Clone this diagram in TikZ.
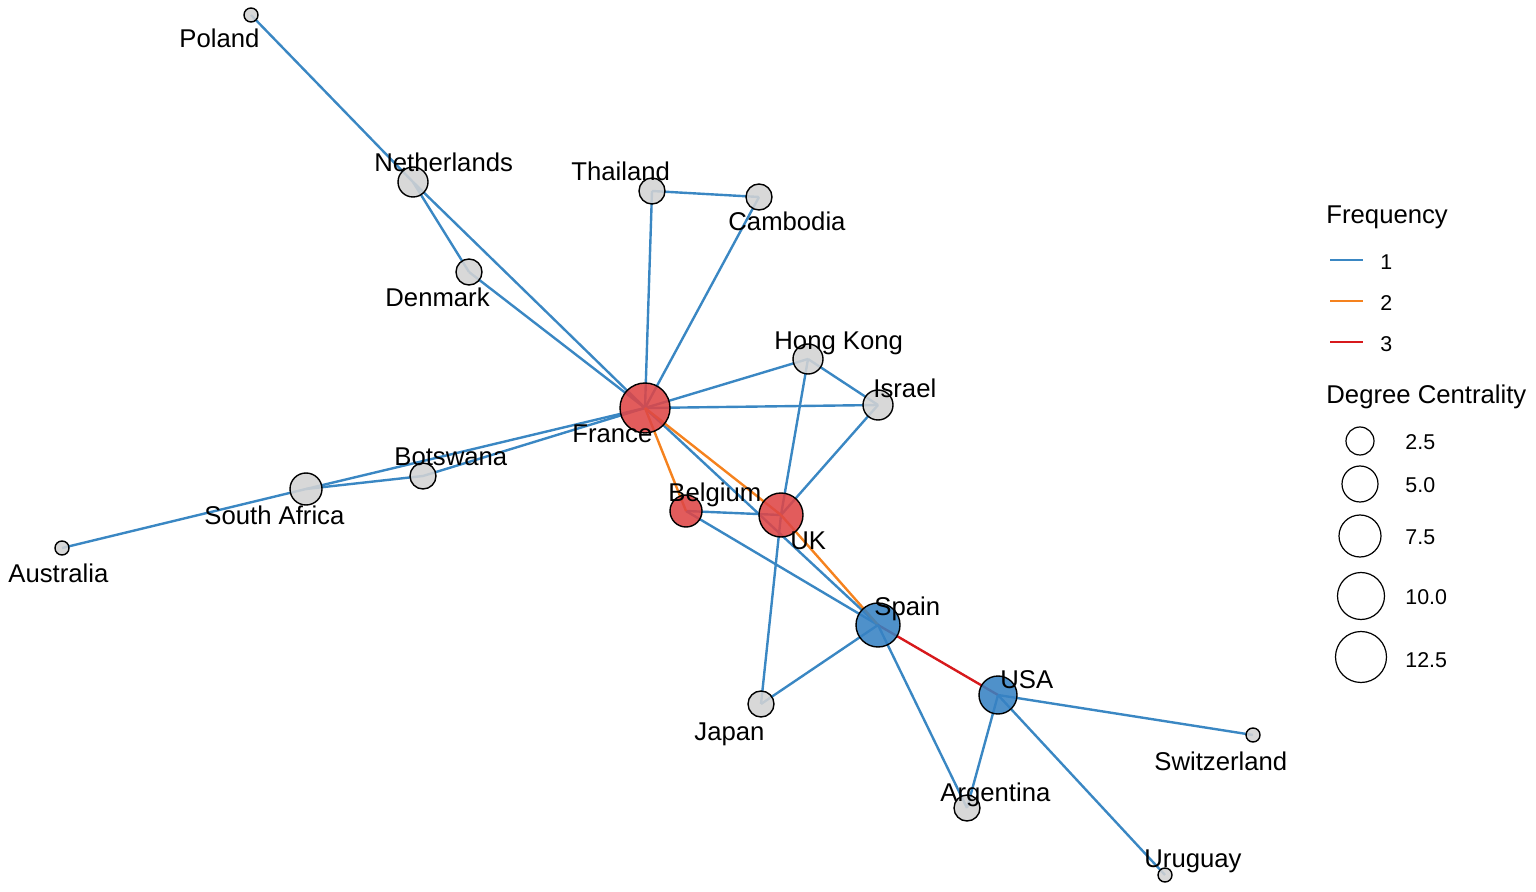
\documentclass[tikz,border=0pt]{standalone}
\usepackage{fontspec}
\setmainfont{Liberation Sans}
\usetikzlibrary{backgrounds}
\definecolor{eblue}{RGB}{58,135,195}
\definecolor{eorange}{RGB}{245,130,30}
\definecolor{ered}{RGB}{215,25,28}
\definecolor{ngrey}{RGB}{211,211,211}
\definecolor{nred}{RGB}{222,70,70}
\definecolor{nblue}{RGB}{55,130,195}
\tikzset{
  vtx/.style={circle,draw=black,line width=0.7pt,fill opacity=0.88,inner sep=0pt},
  vg/.style={vtx,fill=ngrey},
  vr/.style={vtx,fill=nred},
  vb/.style={vtx,fill=nblue},
  lbl/.style={anchor=base west,inner sep=0pt,font=\fontsize{12.85}{15}\selectfont},
  e1/.style={draw=eblue,line width=1.2pt},
  e2/.style={draw=eorange,line width=1.2pt},
  e3/.style={draw=ered,line width=1.2pt},
  legt/.style={anchor=base west,inner sep=0pt,font=\fontsize{12.85}{15}\selectfont},
  legn/.style={anchor=base west,inner sep=0pt,font=\fontsize{10.7}{13}\selectfont},
  legc/.style={circle,draw=black,line width=0.6pt,inner sep=0pt}
}
\begin{document}
\begin{tikzpicture}[x=0.5pt,y=-0.5pt]
\useasboundingbox (0,0) rectangle (1536,892);
% nodes
\node[vg,minimum size=7pt]  (pol) at (251,15) {};
\node[vg,minimum size=15pt] (ned) at (413,182) {};
\node[vg,minimum size=13pt] (tha) at (652,191) {};
\node[vg,minimum size=13pt] (cam) at (759,197) {};
\node[vg,minimum size=13pt] (den) at (469,272) {};
\node[vg,minimum size=15pt] (hk)  at (808,359) {};
\node[vg,minimum size=15pt] (isr) at (878,405) {};
\node[vr,minimum size=25pt] (fra) at (645,408) {};
\node[vg,minimum size=13pt] (bot) at (423,476) {};
\node[vg,minimum size=16pt] (saf) at (306,489) {};
\node[vg,minimum size=7pt]  (aus) at (62,548) {};
\node[vr,minimum size=16pt] (bel) at (686,511) {};
\node[vr,minimum size=22pt] (uk)  at (781,515) {};
\node[vb,minimum size=22pt] (spa) at (878,625) {};
\node[vb,minimum size=19pt] (usa) at (998,695) {};
\node[vg,minimum size=13pt] (jap) at (761,704) {};
\node[vg,minimum size=7pt]  (swi) at (1253,735) {};
\node[vg,minimum size=13pt] (arg) at (967,808) {};
\node[vg,minimum size=7pt]  (uru) at (1165,875) {};
% edges
\begin{scope}[on background layer]
\draw[e1] (pol.center) -- (ned.center);
\draw[e1] (ned.center) -- (fra.center);
\draw[e1] (ned.center) -- (den.center);
\draw[e1] (den.center) -- (fra.center);
\draw[e1] (tha.center) -- (cam.center);
\draw[e1] (tha.center) -- (fra.center);
\draw[e1] (cam.center) -- (fra.center);
\draw[e1] (hk.center) -- (fra.center);
\draw[e1] (isr.center) -- (fra.center);
\draw[e1] (hk.center) -- (isr.center);
\draw[e1] (hk.center) -- (uk.center);
\draw[e1] (isr.center) -- (uk.center);
\draw[e1] (uk.center) -- (jap.center);
\draw[e1] (fra.center) -- (bot.center);
\draw[e1] (fra.center) -- (saf.center);
\draw[e1] (bot.center) -- (saf.center);
\draw[e1] (saf.center) -- (aus.center);
\draw[e1] (fra.center) -- (spa.center);
\draw[e1] (bel.center) -- (uk.center);
\draw[e1] (bel.center) -- (spa.center);
\draw[e2] (fra.center) -- (bel.center);
\draw[e2] (fra.center) -- (uk.center);
\draw[e2] (uk.center) -- (spa.center);
\draw[e3] (spa.center) -- (usa.center);
\draw[e1] (spa.center) -- (jap.center);
\draw[e1] (spa.center) -- (arg.center);
\draw[e1] (usa.center) -- (arg.center);
\draw[e1] (usa.center) -- (swi.center);
\draw[e1] (usa.center) -- (uru.center);
\end{scope}
% labels
\node[lbl] (lpol) at (179,48) {Poland};
\node[lbl] (lned) at (374,172) {Netherlands};
\node[lbl] (ltha) at (571,181) {Thailand};
\node[lbl] (lcam) at (728,231) {Cambodia};
\node[lbl] (lden) at (385,307) {Denmark};
\node[lbl] (lhk)  at (774,350) {Hong Kong};
\node[lbl] (lisr) at (873,398) {Israel};
\node[lbl] (lfra) at (572,443) {France};
\node[lbl] (lbot) at (394,466) {Botswana};
\node[lbl] (lsaf) at (204,525) {South Africa};
\node[lbl] (laus) at (8,582) {Australia};
\node[lbl] (lbel) at (668,502) {Belgium};
\node[lbl] (luk)  at (790,550) {UK};
\node[lbl] (lspa) at (874,616) {Spain};
\node[lbl] (lusa) at (1000,688) {USA};
\node[lbl] (ljap) at (694,740) {Japan};
\node[lbl] (lswi) at (1154,770) {Switzerland};
\node[lbl] (larg) at (940,801) {Argentina};
\node[lbl] (luru) at (1144,867) {Uruguay};
% legend
\node[legt] (lfreq) at (1326,224) {Frequency};
\coordinate (f1a) at (1330,260); \coordinate (f1b) at (1363,260);
\coordinate (f2a) at (1330,301); \coordinate (f2b) at (1363,301);
\coordinate (f3a) at (1330,342); \coordinate (f3b) at (1363,342);
\draw[e1] (f1a) -- (f1b);
\draw[e2] (f2a) -- (f2b);
\draw[e3] (f3a) -- (f3b);
\node[legn] (n1) at (1380,270) {1};
\node[legn] (n2) at (1380,311) {2};
\node[legn] (n3) at (1380,352) {3};
\node[legt] (ldeg) at (1326,404) {Degree Centrality};
\node[legc,minimum size=14pt]   (c1) at (1360,441) {};
\node[legc,minimum size=18pt]   (c2) at (1360,484) {};
\node[legc,minimum size=21pt]   (c3) at (1360,536) {};
\node[legc,minimum size=23.5pt] (c4) at (1361,596) {};
\node[legc,minimum size=25.5pt] (c5) at (1361,657) {};
\node[legn] (t1) at (1405,450) {2.5};
\node[legn] (t2) at (1405,493) {5.0};
\node[legn] (t3) at (1405,545) {7.5};
\node[legn] (t4) at (1405,604) {10.0};
\node[legn] (t5) at (1405,667) {12.5};
\end{tikzpicture}
\end{document}
